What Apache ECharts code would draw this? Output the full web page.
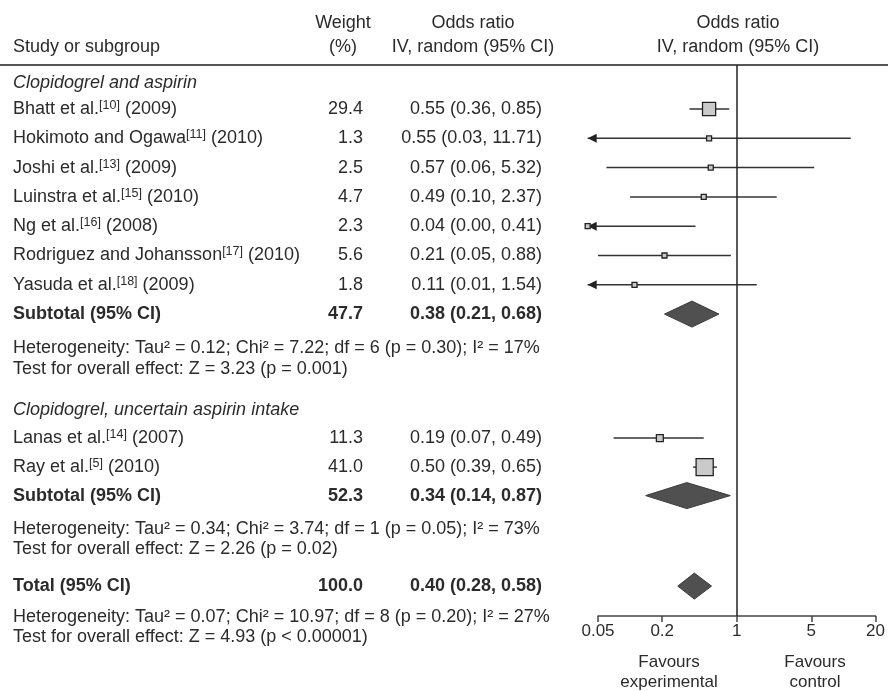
<!DOCTYPE html>
<html>
<head>
<meta charset="utf-8">
<script src="https://cdn.jsdelivr.net/npm/echarts@6/dist/echarts.min.js"></script>
<style>
html,body{margin:0;padding:0;background:#fff;}
#chart{width:888px;height:691px;}
</style>
</head>
<body>
<div id="chart"></div>
<script>
// ---------------- DATA ----------------
const group1Title = 'Clopidogrel and aspirin';
const group2Title = 'Clopidogrel, uncertain aspirin intake';

const studyAuthors = ['Bhatt et al.', 'Hokimoto and Ogawa', 'Joshi et al.', 'Luinstra et al.', 'Ng et al.',
                      'Rodriguez and Johansson', 'Yasuda et al.', 'Lanas et al.', 'Ray et al.'];
const studyRefs    = ['10', '11', '13', '15', '16', '17', '18', '14', '5'];
const studyYears   = [2009, 2010, 2009, 2010, 2008, 2010, 2009, 2007, 2010];
const studyGroup   = [0, 0, 0, 0, 0, 0, 0, 1, 1];
const studyWeights = [29.4, 1.3, 2.5, 4.7, 2.3, 5.6, 1.8, 11.3, 41.0];
const studyOR      = [0.55, 0.55, 0.57, 0.49, 0.04, 0.21, 0.11, 0.19, 0.50];
const studyLower   = [0.36, 0.03, 0.06, 0.10, 0.00, 0.05, 0.01, 0.07, 0.39];
const studyUpper   = [0.85, 11.71, 5.32, 2.37, 0.41, 0.88, 1.54, 0.49, 0.65];

const subtotalWeights = [47.7, 52.3];
const subtotalOR      = [0.38, 0.34];
const subtotalLower   = [0.21, 0.14];
const subtotalUpper   = [0.68, 0.87];

const totalWeight = 100.0;
const totalOR = 0.40;
const totalLower = 0.28;
const totalUpper = 0.58;

const heterogeneityTexts = [
  'Heterogeneity: Tau² = 0.12; Chi² = 7.22; df = 6 (p = 0.30); I² = 17%',
  'Heterogeneity: Tau² = 0.34; Chi² = 3.74; df = 1 (p = 0.05); I² = 73%',
  'Heterogeneity: Tau² = 0.07; Chi² = 10.97; df = 8 (p = 0.20); I² = 27%'
];
const overallEffectTexts = [
  'Test for overall effect: Z = 3.23 (p = 0.001)',
  'Test for overall effect: Z = 2.26 (p = 0.02)',
  'Test for overall effect: Z = 4.93 (p < 0.00001)'
];
const xTickValues = [0.05, 0.2, 1, 5, 20];
const favoursLeft = ['Favours', 'experimental'];
const favoursRight = ['Favours', 'control'];

// ---------------- STYLE / LAYOUT ----------------
const FONT = '"Liberation Sans", Arial, Helvetica, sans-serif';
const TXT = '#2b2b2b';
const FS = 18;
const CLIP_LO = 0.04, CLIP_HI = 25;
const GRID_TOP = 65, GRID_H = 551;

// build row layout (vertical positions in grid units = px from header rule)
const rows = [];
let cursor = 18;
function addRow(kind, props, gap) { cursor += gap; rows.push(Object.assign({ kind: kind, y: cursor }, props)); }
addRow('group', { text: group1Title }, 0);
let first = true;
studyGroup.forEach((g, i) => { if (g === 0) { addRow('study', { i: i }, first ? 26 : 29.3); first = false; } });
addRow('subtotal', { g: 0 }, 29.3);
addRow('note', { text: heterogeneityTexts[0] }, 34);
addRow('note', { text: overallEffectTexts[0] }, 21);
addRow('group', { text: group2Title }, 41);
first = true;
studyGroup.forEach((g, i) => { if (g === 1) { addRow('study', { i: i }, first ? 28 : 29); first = false; } });
addRow('subtotal', { g: 1 }, 28.5);
addRow('note', { text: heterogeneityTexts[1] }, 33);
addRow('note', { text: overallEffectTexts[1] }, 20);
addRow('total', {}, 37.5);
addRow('note', { text: heterogeneityTexts[2] }, 31);
addRow('note', { text: overallEffectTexts[2] }, 20);

// forest data: [or, lower, upper, y, weight, kind(0 study / 1 summary)]
const forestData = [];
rows.forEach(r => {
  if (r.kind === 'study') forestData.push([studyOR[r.i], studyLower[r.i], studyUpper[r.i], r.y, studyWeights[r.i], 0]);
  else if (r.kind === 'subtotal') forestData.push([subtotalOR[r.g], subtotalLower[r.g], subtotalUpper[r.g], r.y, subtotalWeights[r.g], 1]);
  else if (r.kind === 'total') forestData.push([totalOR, totalLower, totalUpper, r.y, totalWeight, 1]);
});

function ciText(o, l, u) { return o.toFixed(2) + ' (' + l.toFixed(2) + ', ' + u.toFixed(2) + ')'; }

function t(x, y, text, opt) {
  return { type: 'text', x: x, y: y,
    style: Object.assign({ text: text, fill: TXT, fontFamily: FONT, fontSize: FS, align: 'left', verticalAlign: 'middle' }, opt || {}) };
}

const supRich = { sup: { fontSize: 12.5, verticalAlign: 'top', lineHeight: 12, fill: TXT, fontFamily: FONT } };

function renderTable(params, api) {
  const r = rows[params.dataIndex];
  const yy = api.coord([1, r.y])[1];
  const kids = [];
  if (r.kind === 'group') {
    kids.push(t(13, yy, r.text, { fontStyle: 'italic' }));
  } else if (r.kind === 'study') {
    const i = r.i;
    kids.push(t(13, yy, studyAuthors[i] + '{sup|[' + studyRefs[i] + ']} (' + studyYears[i] + ')', { rich: supRich, lineHeight: 20 }));
    kids.push(t(363, yy, studyWeights[i].toFixed(1), { align: 'right' }));
    kids.push(t(542, yy, ciText(studyOR[i], studyLower[i], studyUpper[i]), { align: 'right' }));
  } else if (r.kind === 'subtotal') {
    const g = r.g;
    kids.push(t(13, yy, 'Subtotal (95% CI)', { fontWeight: 'bold' }));
    kids.push(t(363, yy, subtotalWeights[g].toFixed(1), { align: 'right', fontWeight: 'bold' }));
    kids.push(t(542, yy, ciText(subtotalOR[g], subtotalLower[g], subtotalUpper[g]), { align: 'right', fontWeight: 'bold' }));
  } else if (r.kind === 'total') {
    kids.push(t(13, yy, 'Total (95% CI)', { fontWeight: 'bold' }));
    kids.push(t(363, yy, totalWeight.toFixed(1), { align: 'right', fontWeight: 'bold' }));
    kids.push(t(542, yy, ciText(totalOR, totalLower, totalUpper), { align: 'right', fontWeight: 'bold' }));
  } else if (r.kind === 'note') {
    kids.push(t(13, yy, r.text, {}));
  }
  return { type: 'group', children: kids };
}

function renderForest(params, api) {
  const or = api.value(0), lo = api.value(1), hi = api.value(2), yv = api.value(3), w = api.value(4), kind = api.value(5);
  const yy = api.coord([1, yv])[1];
  const X = v => api.coord([v, yv])[0];
  const kids = [];
  if (kind === 0) {
    const loC = Math.max(lo, CLIP_LO), hiC = Math.min(hi, CLIP_HI);
    const x1 = X(loC), x2 = X(hiC);
    kids.push({ type: 'line', shape: { x1: x1, y1: yy, x2: x2, y2: yy }, style: { stroke: '#333', lineWidth: 1.5 } });
    if (lo < CLIP_LO) kids.push({ type: 'polygon', shape: { points: [[x1, yy], [x1 + 9, yy - 4.5], [x1 + 9, yy + 4.5]] }, style: { fill: '#222' } });
    if (hi > CLIP_HI) kids.push({ type: 'polygon', shape: { points: [[x2, yy], [x2 - 9, yy - 4.5], [x2 - 9, yy + 4.5]] }, style: { fill: '#222' } });
    const s = Math.max(5, 3 + 0.345 * w);
    const cx = X(or);
    kids.push({ type: 'rect', shape: { x: cx - s / 2, y: yy - s / 2, width: s, height: s }, style: { fill: '#cacaca', stroke: '#222', lineWidth: 1.3 } });
  } else {
    const xl = X(lo), xc = X(or), xr = X(hi);
    kids.push({ type: 'polygon', shape: { points: [[xl, yy], [xc, yy - 13], [xr, yy], [xc, yy + 13]] }, style: { fill: '#505050', stroke: '#3c3c3c', lineWidth: 1 } });
  }
  return { type: 'group', children: kids };
}

function nearestTick(v) {
  let best = xTickValues[0];
  xTickValues.forEach(tv => { if (Math.abs(Math.log(tv) - Math.log(v)) < Math.abs(Math.log(best) - Math.log(v))) best = tv; });
  return String(best);
}

const chart = echarts.init(document.getElementById('chart'), null, { renderer: 'canvas' });

const headerStyle = { fill: TXT, fontFamily: FONT, fontSize: FS, verticalAlign: 'middle' };
function gText(x, y, text, align, size) {
  return { type: 'text', x: x, y: y, style: Object.assign({}, headerStyle, { text: text, align: align, fontSize: size || FS }) };
}

chart.setOption({
  animation: false,
  backgroundColor: '#ffffff',
  grid: { left: 598, right: 8, top: GRID_TOP, height: GRID_H, containLabel: false },
  xAxis: {
    type: 'log', logBase: 10, min: 0.05, max: 20, position: 'bottom',
    axisLine: { show: true, onZero: false, lineStyle: { color: '#444', width: 1.5 } },
    axisTick: { show: true, customValues: xTickValues, length: 6, lineStyle: { color: '#444', width: 1.5 } },
    axisLabel: { show: true, customValues: xTickValues, formatter: nearestTick, fontSize: 17, color: TXT, fontFamily: FONT, margin: 7, showMinLabel: true, showMaxLabel: true },
    splitLine: { show: false },
    minorTick: { show: false }
  },
  yAxis: { type: 'value', min: 0, max: GRID_H, inverse: true, show: false },
  graphic: [
    { type: 'line', shape: { x1: 0, y1: 65, x2: 888, y2: 65 }, style: { stroke: '#555', lineWidth: 2 } },
    gText(13, 47, 'Study or subgroup', 'left'),
    gText(343, 23, 'Weight', 'center'),
    gText(343, 47, '(%)', 'center'),
    gText(473, 23, 'Odds ratio', 'center'),
    gText(473, 47, 'IV, random (95% CI)', 'center'),
    gText(738, 23, 'Odds ratio', 'center'),
    gText(738, 47, 'IV, random (95% CI)', 'center'),
    gText(669, 662, favoursLeft[0], 'center', 17),
    gText(669, 682, favoursLeft[1], 'center', 17),
    gText(815, 662, favoursRight[0], 'center', 17),
    gText(815, 682, favoursRight[1], 'center', 17)
  ],
  series: [
    {
      type: 'custom', name: 'table', clip: false, silent: true,
      data: rows.map(r => [1, r.y]),
      encode: { x: 0, y: 1 },
      renderItem: renderTable
    },
    {
      type: 'custom', name: 'forest', clip: false, silent: true,
      data: forestData,
      encode: { x: 0, y: 3 },
      renderItem: renderForest,
      markLine: {
        silent: true, symbol: ['none', 'none'], label: { show: false },
        lineStyle: { color: '#222', width: 1.5, type: 'solid' },
        data: [{ xAxis: 1 }]
      }
    }
  ]
});
</script>
</body>
</html>
